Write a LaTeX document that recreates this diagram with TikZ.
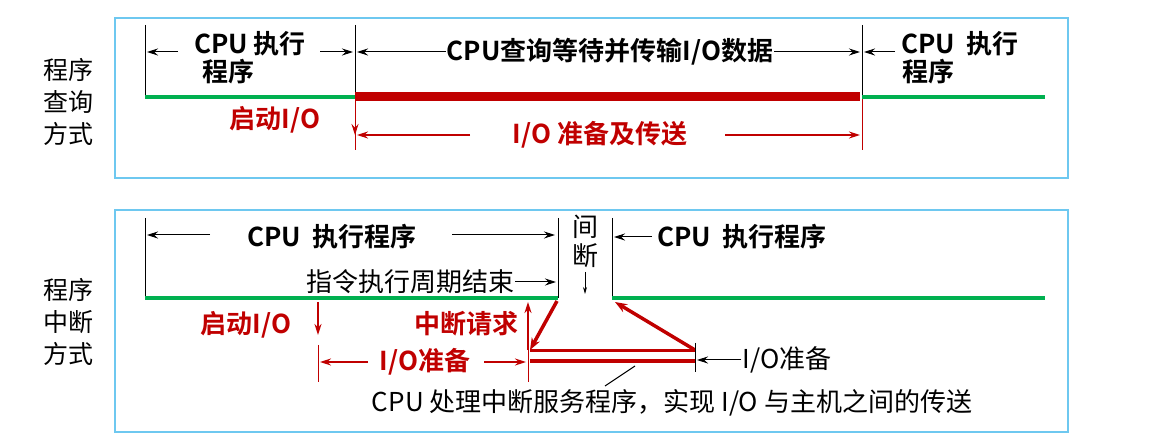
\documentclass[tikz,border=0pt]{standalone}
\usepackage{fontspec}
\setmainfont{Noto Sans CJK SC}[BoldFont={* Bold}]
\usetikzlibrary{arrows.meta}
\definecolor{dred}{RGB}{192,0,0}
\definecolor{grn}{RGB}{0,176,80}
\definecolor{bbord}{RGB}{110,200,240}
\begin{document}
\begin{tikzpicture}[x=1pt,y=-1pt,
  lbl/.style={font=\bfseries\fontsize{26}{30}\selectfont,inner sep=1pt},
  rlbl/.style={lbl,text=dred},
  plain/.style={font=\fontsize{26}{30}\selectfont,inner sep=1pt},
  side/.style={font=\fontsize{25}{32}\selectfont,align=center,inner sep=0pt},
  tick/.style={black,line width=1pt},
  rtick/.style={dred,line width=1pt},
  arr/.style={-{Stealth[length=11pt,width=7pt]},line width=1pt},
  gline/.style={grn,line width=3.5pt},
  panel/.style={draw=bbord,line width=1.5pt}]
\useasboundingbox (0,0) rectangle (1171,446);
\draw[panel] (115,18) rectangle (1068,178);
\draw[panel] (115,210) rectangle (1068,432);
\node[side] (s1) at (68,102) {程序\\查询\\方式};
\node[side] (s2) at (68,322) {程序\\中断\\方式};
% top
\draw[tick] (145,25)--(145,97); \draw[tick] (355,25)--(355,97); \draw[rtick] (355,97)--(355,150);
\draw[tick] (862,25)--(862,97); \draw[rtick] (862,97)--(862,150);
\draw[gline] (145,97)--(355,97);
\draw[dred,line width=9pt] (355,97)--(860,97);
\draw[gline] (862,97)--(1045,97);
\node[lbl] (t1) at (250,44) {CPU 执行};
\node[lbl] (t2) at (228,72) {程序};
\coordinate (p1) at (178,52); \coordinate (p2) at (147,52);
\draw[arr] (p1)--(p2);
\coordinate (p3) at (320,52); \coordinate (p4) at (353,52);
\draw[arr] (p3)--(p4);
\node[lbl] (t3) at (610,52) {CPU查询等待并传输I/O数据};
\draw[arr] (t3.west)--(357,52); \draw[arr] (t3.east)--(860,52);
\node[lbl] (t4) at (960,44) {CPU\ \ 执行};
\node[lbl] (t5) at (928,72) {程序};
\coordinate (p5) at (895,52); \coordinate (p6) at (864,52);
\draw[arr] (p5)--(p6);
\node[rlbl] (r1) at (275,120) {启动I/O};
\coordinate (q1) at (355,100); \coordinate (q2) at (355,135);
\draw[arr,dred] (q1)--(q2);
\node[rlbl] (r2) at (600,135) {I/O 准备及传送};
\coordinate (q3) at (470,135); \coordinate (q4) at (357,135);
\draw[arr,dred,line width=1.5pt] (q3)--(q4);
\coordinate (q5) at (725,135); \coordinate (q6) at (860,135);
\draw[arr,dred,line width=1.5pt] (q5)--(q6);
% bottom
\draw[tick] (145,218)--(145,298);
\draw[tick] (558,218)--(558,298);
\draw[tick] (612,218)--(612,298);
\draw[gline] (145,298)--(558,298);
\draw[gline] (612,298)--(1045,298);
\node[lbl] (u1) at (332,237) {CPU\ \ 执行程序};
\coordinate (v1) at (210,235); \coordinate (v2) at (147,235);
\draw[arr] (v1)--(v2);
\coordinate (v3) at (452,235); \coordinate (v4) at (555,235);
\draw[arr] (v3)--(v4);
\node[plain] (u2) at (585,227) {间};
\node[plain] (u3) at (585,256) {断};
\coordinate (v5) at (585,272); \coordinate (v6) at (585,294);
\draw[arr,line width=0.8pt,-{Stealth[length=7pt,width=4pt]}] (v5)--(v6);
\node[lbl] (u4) at (742,237) {CPU\ \ 执行程序};
\coordinate (v7) at (652,237); \coordinate (v8) at (614,237);
\draw[arr] (v7)--(v8);
\node[plain] (u5) at (410,282) {指令执行周期结束};
\coordinate (v9) at (556,282);
\draw[arr] (u5.east)--(v9);
\node[rlbl] (u6) at (246,325) {启动I/O};
\coordinate (w1) at (318,302); \coordinate (w2) at (318,335);
\draw[arr,dred,line width=2pt] (w1)--(w2);
\draw[rtick] (318,345)--(318,382);
\draw[rtick] (528,345)--(528,382);
\node[rlbl] (u7) at (425,362) {I/O准备};
\coordinate (w3) at (368,362); \coordinate (w4) at (320,362);
\draw[arr,dred,line width=1.5pt] (w3)--(w4);
\coordinate (w5) at (484,362); \coordinate (w6) at (526,362);
\draw[arr,dred,line width=1.5pt] (w5)--(w6);
\node[rlbl] (u8) at (466,324) {中断请求};
\coordinate (w7) at (528,350); \coordinate (w8) at (528,302);
\draw[arr,dred,line width=2pt] (w7)--(w8);
\coordinate (d1) at (557,301); \coordinate (d2) at (530,350);
\draw[dred,line width=3.5pt,-{Stealth[length=12pt]}] (d1)--(d2);
\draw[dred,line width=3pt] (530,351)--(695,351);
\draw[dred,line width=4.5pt] (530,361)--(695,361);
\coordinate (d3) at (695,350); \coordinate (d4) at (615,302);
\draw[dred,line width=3.5pt,-{Stealth[length=12pt]}] (d3)--(d4);
\draw[tick] (695,343)--(695,372);
\node[plain] (u9) at (787,360) {I/O准备};
\coordinate (x1) at (697,360);
\draw[arr] (u9.west)--(x1);
\node[plain] (u10) at (672,403) {CPU 处理中断服务程序，实现 I/O 与主机之间的传送};
\coordinate (x2) at (635,366); \coordinate (x3) at (605,386);
\draw[tick] (x2)--(x3);
\end{tikzpicture}
\end{document}
